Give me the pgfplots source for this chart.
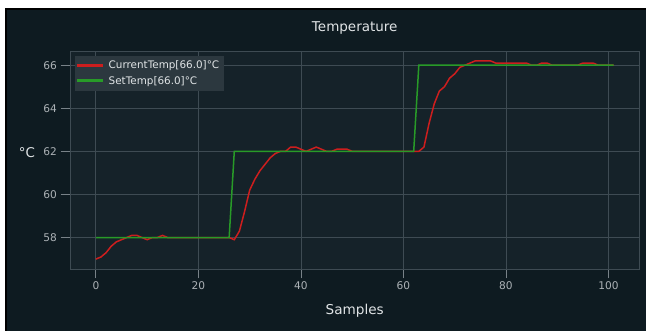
\documentclass[border=0pt]{standalone}
\usepackage{pgfplots}
\pgfplotsset{compat=1.18}
\usepackage{fontspec}
\setmainfont{DejaVu Sans}
\definecolor{figbg}{RGB}{14,27,33}
\definecolor{axbg}{RGB}{21,34,41}
\definecolor{gridc}{RGB}{62,75,83}
\definecolor{tickmc}{RGB}{120,130,136}
\definecolor{tickc}{RGB}{172,178,182}
\definecolor{labc}{RGB}{224,228,230}
\definecolor{legbg}{RGB}{44,56,63}
\definecolor{redc}{RGB}{205,30,30}
\definecolor{greenc}{RGB}{40,155,40}
\begin{document}
\begin{tikzpicture}
\path[use as bounding box] (0,0) rectangle (646pt,331pt);
\fill[white] (0,0) rectangle (646pt,331pt);
\fill[black] (5pt,0) rectangle (646pt,323pt);
\fill[figbg] (7pt,0) rectangle (646pt,321pt);
\begin{axis}[
  at={(70pt,62pt)}, anchor=south west,
  scale only axis, width=569.5pt, height=218pt,
  xmin=-5.05, xmax=106.05, ymin=56.54, ymax=66.66,
  axis background/.style={fill=axbg},
  axis line style={gridc, line width=0.8pt},
  xtick={0,20,...,100}, ytick={58,60,...,66},
  xtick pos=left, ytick pos=left,
  tick align=outside, major tick length=9.5pt,
  every tick/.style={tickmc, line width=0.8pt},
  grid=major,
  major grid style={gridc, line width=0.8pt},
  /pgf/number format/assume math mode=true,
  ticklabel style={font=\fontsize{10.6}{12}\selectfont, text=tickc},
  title={Temperature},
  every axis title/.style={at={(axis description cs:0.5,1)}, anchor=center, yshift=23pt, font=\fontsize{13.5}{16}\selectfont, text=labc},
  xlabel={Samples},
  every axis x label/.style={at={(axis description cs:0.5,0)}, anchor=center, yshift=-42pt, font=\fontsize{13.6}{16}\selectfont, text=labc},
  ylabel={°C},
  every axis y label/.style={at={(axis description cs:0,0.532)}, anchor=center, xshift=-43pt, font=\fontsize{13.4}{16}\selectfont, text=labc},
  legend style={at={(axis description cs:0.0088,0.977)}, anchor=north west, fill=legbg, draw=legbg, font=\fontsize{10.4}{12}\selectfont, inner xsep=2pt, inner ysep=2.5pt, row sep=2pt},
  legend cell align=left,
  legend image code/.code={\fill[#1] (0pt,-0.7pt) rectangle (24pt,0.7pt); \path (28pt,0pt);},
]
\addplot[redc, line width=1.5pt] coordinates {
(0,57.0)(1,57.1)(2,57.3)(3,57.6)(4,57.8)(5,57.9)(6,58.0)(7,58.1)(8,58.1)(9,58.0)
(10,57.9)(11,58.0)(12,58.0)(13,58.1)(14,58.0)(15,58.0)(16,58.0)(17,58.0)(18,58.0)(19,58.0)
(20,58.0)(21,58.0)(22,58.0)(23,58.0)(24,58.0)(25,58.0)(26,58.0)(27,57.9)(28,58.3)(29,59.2)
(30,60.2)(31,60.7)(32,61.1)(33,61.4)(34,61.7)(35,61.9)(36,62.0)(37,62.0)(38,62.2)(39,62.2)
(40,62.1)(41,62.0)(42,62.1)(43,62.2)(44,62.1)(45,62.0)(46,62.0)(47,62.1)(48,62.1)(49,62.1)
(50,62.0)(51,62.0)(52,62.0)(53,62.0)(54,62.0)(55,62.0)(56,62.0)(57,62.0)(58,62.0)(59,62.0)
(60,62.0)(61,62.0)(62,62.0)(63,62.0)(64,62.2)(65,63.3)(66,64.2)(67,64.8)(68,65.0)(69,65.4)
(70,65.6)(71,65.9)(72,66.0)(73,66.1)(74,66.2)(75,66.2)(76,66.2)(77,66.2)(78,66.1)(79,66.1)
(80,66.1)(81,66.1)(82,66.1)(83,66.1)(84,66.1)(85,66.0)(86,66.0)(87,66.1)(88,66.1)(89,66.0)
(90,66.0)(91,66.0)(92,66.0)(93,66.0)(94,66.0)(95,66.1)(96,66.1)(97,66.1)(98,66.0)(99,66.0)
(100,66.0)(101,66.0)
};
\addlegendentry[text=labc]{CurrentTemp[66.0]°C}
\addplot[greenc, line width=1.5pt] coordinates {
(0,58)(26,58)(27,62)(62,62)(63,66)(101,66)
};
\addlegendentry[text=labc]{SetTemp[66.0]°C}
\end{axis}
\end{tikzpicture}
\end{document}
